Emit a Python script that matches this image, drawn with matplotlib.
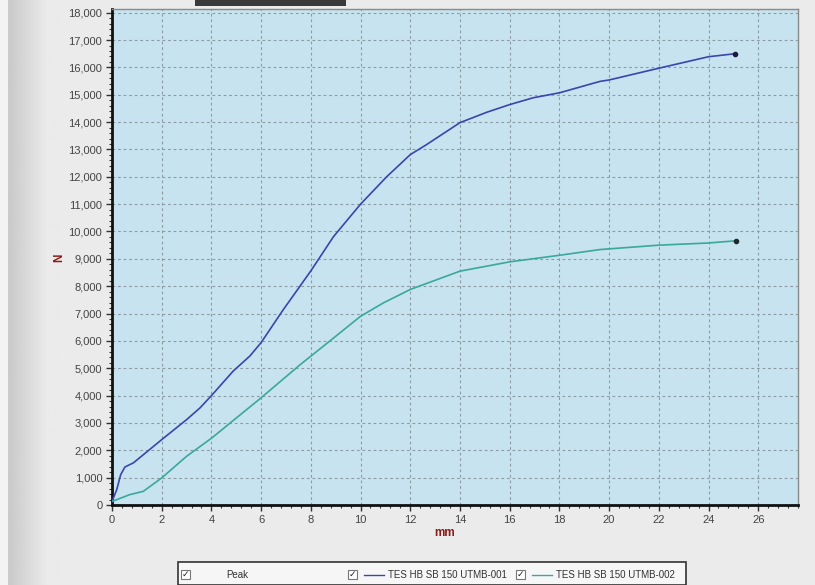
import numpy as np
import matplotlib
matplotlib.use("Agg")
import matplotlib.pyplot as plt
from matplotlib.ticker import MultipleLocator, FuncFormatter
from matplotlib.patches import Rectangle
from matplotlib.lines import Line2D

plt.rcParams['font.family'] = ['Liberation Sans', 'DejaVu Sans']

# ---- data ----
series1_name = "TES HB SB 150 UTMB-001"
series1_mm = [0, 0.19, 0.35, 0.52, 0.86, 2.0, 3.0, 3.54, 4.0, 4.88, 5.55, 6.0, 6.89,
              8.0, 8.91, 10.0, 11.05, 12.0, 12.66, 14.0, 15.08, 16.0, 16.95,
              18.0, 19.64, 20.0, 22.0, 24.0, 25.07]
series1_N = [130, 560, 1110, 1390, 1540, 2390, 3120, 3550, 4000, 4900, 5450, 5940, 7140,
             8560, 9810, 11000, 12000, 12810, 13180, 13980, 14360, 14640, 14890,
             15070, 15490, 15540, 15970, 16390, 16500]

series2_name = "TES HB SB 150 UTMB-002"
series2_mm = [0, 0.72, 1.26, 2.0, 3.0, 4.0, 6.0, 7.57, 8.77, 10.0, 10.92, 12.0, 14.0,
              16.0, 18.0, 19.64, 22.0, 24.0, 25.1]
series2_N = [130, 380, 500, 990, 1780, 2440, 3920, 5130, 6000, 6900, 7390, 7880, 8550,
             8890, 9130, 9340, 9500, 9580, 9660]

legend_labels = ["Peak", series1_name, series2_name]
x_label = "mm"
y_label = "N"

c1 = "#3b45ad"
c2 = "#3aa89c"

W, H = 815, 585
fig = plt.figure(figsize=(W / 100, H / 100), dpi=100)
fig.patch.set_facecolor("#ebebeb")

# left gradient strip
bg = fig.add_axes([0, 0, 60 / W, 1], zorder=-5)
idx = np.arange(60)
col = np.where(idx < 8, 0.95, 0.79 + 0.13 * np.clip((idx - 8) / 38, 0, 1))
bg.imshow(np.tile(col, (2, 1)), cmap="gray", vmin=0, vmax=1, aspect="auto",
          extent=[0, 1, 0, 1])
bg.axis("off")

# top dark bar (cut-off element)
fig.patches.append(Rectangle((195 / W, 1 - 6 / H), 151 / W, 6 / H, transform=fig.transFigure,
                             facecolor="#3a3a3a", edgecolor="none", zorder=1))

ax = fig.add_axes([112 / W, 1 - 505 / H, 686 / W, 496 / H])
ax.set_facecolor("#c6e3ef")

ax.plot(series1_mm, series1_N, color=c1, lw=1.2, zorder=3)
ax.plot(series2_mm, series2_N, color=c2, lw=1.2, zorder=3)
ax.plot([series1_mm[-1]], [series1_N[-1]], 'o', color="#1a1a3a", ms=3, zorder=4)
ax.plot([series2_mm[-1]], [series2_N[-1]], 'o', color="#1a2a2a", ms=3, zorder=4)

ax.set_xlim(0, 27.6)
ax.set_ylim(0, 18135)
ax.xaxis.set_major_locator(MultipleLocator(2))
ax.xaxis.set_minor_locator(MultipleLocator(0.4))
ax.yaxis.set_major_locator(MultipleLocator(1000))
ax.yaxis.set_minor_locator(MultipleLocator(200))
ax.yaxis.set_major_formatter(FuncFormatter(lambda v, p: f"{int(v):,}"))
ax.grid(True, which="major", color="#8d9ca3", linestyle=(0, (2.5, 2.5)), lw=0.8)
ax.tick_params(which="major", length=4, width=1, colors="#333333", labelsize=8, pad=3)
ax.tick_params(which="minor", length=2, width=0.8, colors="#333333")
for lab in ax.get_xticklabels() + ax.get_yticklabels():
    lab.set_color("#444444")

for s in ["left", "bottom"]:
    ax.spines[s].set_color("#111111")
    ax.spines[s].set_linewidth(2)
for s in ["top", "right"]:
    ax.spines[s].set_color("#8a8a8a")
    ax.spines[s].set_linewidth(1)

fig.text(445 / W, 1 - 533 / H, x_label, color="#8b1a1a", fontsize=8.5, fontweight="bold",
         ha="center", va="center")
fig.text(59 / W, 1 - 258 / H, y_label, color="#8b1a1a", fontsize=8.5, fontweight="bold",
         ha="center", va="center", rotation=90)

# legend box
fig.patches.append(Rectangle((178 / W, 0), 508 / W, 23 / H, transform=fig.transFigure,
                             facecolor="#f6f6f6", edgecolor="#333333", lw=1.2, zorder=2))

def checkbox(xpx):
    fig.patches.append(Rectangle((xpx / W, 1 - 579 / H), 9 / W, 9 / H, transform=fig.transFigure,
                                 facecolor="white", edgecolor="#777777", lw=0.8, zorder=3))
    fig.text((xpx + 4.5) / W, 1 - 574.5 / H, "✓", fontsize=6.5, ha="center", va="center",
             color="#222222", family="DejaVu Sans", zorder=4)

ty = 1 - 574.5 / H
checkbox(181)
fig.text(226 / W, ty, legend_labels[0], fontsize=7, color="#333333", va="center", zorder=4)
checkbox(348)
fig.lines.append(Line2D([364 / W, 384 / W], [ty, ty], transform=fig.transFigure, color=c1, lw=1, zorder=4))
fig.text(388 / W, ty, legend_labels[1], fontsize=7, color="#333333", va="center", zorder=4)
checkbox(516)
fig.lines.append(Line2D([532 / W, 552 / W], [ty, ty], transform=fig.transFigure, color=c2, lw=1, zorder=4))
fig.text(556 / W, ty, legend_labels[2], fontsize=7, color="#333333", va="center", zorder=4)

fig.savefig("out.png", dpi=100, facecolor=fig.get_facecolor())
